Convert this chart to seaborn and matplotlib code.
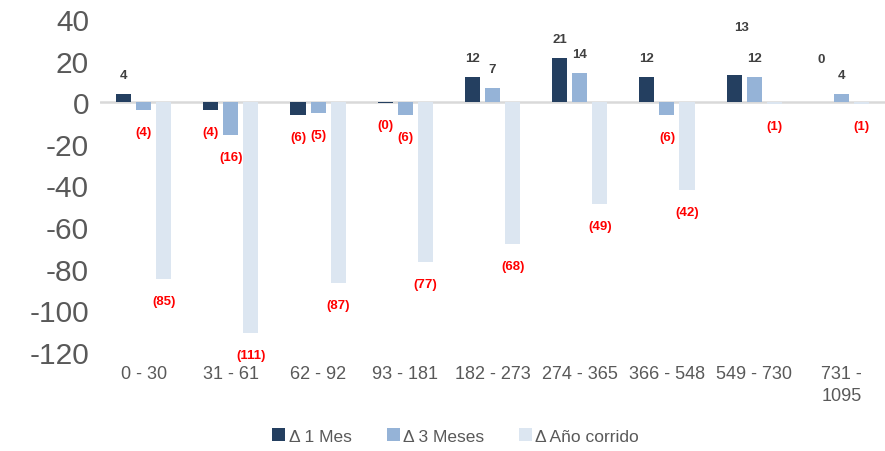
import matplotlib
matplotlib.use("Agg")
import matplotlib.pyplot as plt
from matplotlib.patches import Patch
import seaborn as sns
import pandas as pd

# Maturity buckets (days) and changes per horizon
plazos = ["0 - 30", "31 - 61", "62 - 92", "93 - 181", "182 - 273",
          "274 - 365", "366 - 548", "549 - 730", "731 -\n1095"]
series = ["Δ 1 Mes", "Δ 3 Meses", "Δ Año corrido"]
delta_1m = [4, -4, -6, -0.2, 12, 21, 12, 13, 0.2]
delta_3m = [-4, -16, -5, -6, 7, 14, -6, 12, 4]
delta_ytd = [-85, -111, -87, -77, -68, -49, -42, -1, -1]
y_ticks = [40, 20, 0, -20, -40, -60, -80, -100, -120]

colores = ["#243F60", "#95B3D7", "#DCE6F1"]

df = pd.DataFrame({
    "plazo": plazos * 3,
    "serie": [s for s in series for _ in plazos],
    "valor": delta_1m + delta_3m + delta_ytd,
})

sns.set_theme(style="white")
plt.rcParams["font.family"] = ["Liberation Sans", "DejaVu Sans"]

fig = plt.figure(figsize=(8.85, 4.52), dpi=100)
ax = fig.add_axes([0.113, 0.219, 0.887, 0.737])

sns.barplot(data=df, x="plazo", y="valor", hue="serie", palette=colores,
            saturation=1, width=0.69, gap=0.25, linewidth=0, ax=ax,
            legend=False)

ax.set_ylim(-120, 40)
ax.set_xlim(-0.5, len(plazos) - 0.5)
ax.set_yticks(y_ticks)
ax.set_yticklabels([str(t) for t in y_ticks])
ax.axhline(0, color="#D9D9D9", lw=1.8, zorder=0.5)
for s in ax.spines.values():
    s.set_visible(False)
ax.set_xlabel("")
ax.set_ylabel("")
ax.tick_params(axis="y", labelsize=21.5, labelcolor="#595959", length=0, pad=8)
ax.tick_params(axis="x", labelsize=13, labelcolor="#595959", length=0, pad=9)
for lbl in ax.get_xticklabels():
    lbl.set_linespacing(1.45)


def fmt(v):
    r = int(round(abs(v)))
    return f"({r})" if v < 0 else f"{r}"


# a couple of labels sit further above their bars
nudges = {(0, 7): (7, 48), (0, 8): (0, 43)}

valores = [delta_1m, delta_3m, delta_ytd]
for si, cont in enumerate(ax.containers):
    for ci, bar in enumerate(cont):
        v = valores[si][ci]
        xc = bar.get_x() + bar.get_width() / 2
        if v >= 0:
            dx, dy = nudges.get((si, ci), (0, 19))
            color = "#404040"
        else:
            dx, dy = 0, -22
            color = "#FF0000"
        ax.annotate(fmt(v), xy=(xc, v), xytext=(dx, dy),
                    textcoords="offset pixels", ha="center", va="center",
                    fontsize=9.5, fontweight="bold", color=color,
                    annotation_clip=False)

handles = [Patch(facecolor=c, edgecolor="none") for c in colores]
fig.legend(handles, series, loc="center", bbox_to_anchor=(0.515, 0.033),
           ncol=3, frameon=False, fontsize=12.5, labelcolor="#595959",
           handlelength=0.75, handleheight=0.75, handletextpad=0.2,
           columnspacing=2.0)

fig.savefig("out.png", dpi=100)
